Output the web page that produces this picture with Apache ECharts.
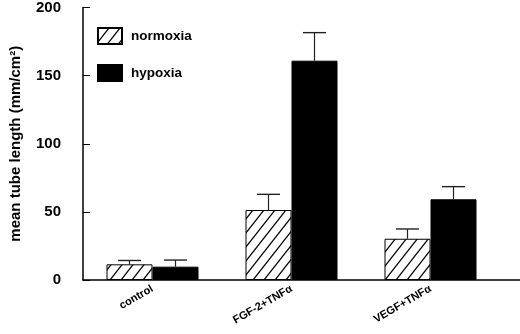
<!DOCTYPE html>
<html>
<head>
<meta charset="utf-8">
<script src="https://cdn.jsdelivr.net/npm/echarts@6/dist/echarts.min.js"></script>
<style>
html,body{margin:0;padding:0;background:#fff;}
#c{width:520px;height:334px;}
</style>
</head>
<body>
<div id="c"></div>
<script>
const categories = ['control', 'FGF-2+TNFα', 'VEGF+TNFα'];
const seriesNames = ['normoxia', 'hypoxia'];
const normoxia = [11.4, 50.9, 30.0];
const normoxiaErr = [14.2, 62.3, 37.1];
const hypoxia = [9.7, 159.5, 58.7];
const hypoxiaErr = [14.5, 179.9, 67.9];
const yTicks = [0, 50, 100, 150, 200];
const yTitle = 'mean tube length (mm/cm²)';

function makeHatch() {
  const w = 11, h = 14;
  const cv = document.createElement('canvas');
  cv.width = w; cv.height = h;
  const ctx = cv.getContext('2d');
  ctx.fillStyle = '#fff';
  ctx.fillRect(0, 0, w, h);
  ctx.strokeStyle = '#000';
  ctx.lineWidth = 1.3;
  for (const s of [-w, 0, w]) {
    ctx.beginPath();
    ctx.moveTo(s - w, 2 * h);
    ctx.lineTo(s + 2 * w, -h);
    ctx.stroke();
  }
  return cv;
}

const BAR_W = 46;
const font = '"Liberation Sans", Arial, sans-serif';

function errSeries(name, vals, errs, side) {
  return {
    type: 'custom',
    name: name + '_err',
    xAxisIndex: 1, yAxisIndex: 1,
    silent: true,
    z: 1,
    data: vals.map((v, i) => [i, v, errs[i]]),
    renderItem: function (params, api) {
      const c = api.value(0);
      const top = api.coord([c, api.value(1)]);
      const cap = api.coord([c, api.value(2)]);
      const x = top[0] + side * BAR_W / 2;
      const half = 11.5;
      return {
        type: 'group',
        children: [
          { type: 'line', shape: { x1: x, y1: top[1], x2: x, y2: cap[1] }, style: { stroke: '#222', lineWidth: 1.2 } },
          { type: 'line', shape: { x1: x - half, y1: cap[1], x2: x + half, y2: cap[1] }, style: { stroke: '#222', lineWidth: 1.4 } }
        ]
      };
    }
  };
}

const chart = echarts.init(document.getElementById('c'), null, { renderer: 'canvas' });
chart.setOption({
  animation: false,
  backgroundColor: '#fff',
  textStyle: { fontFamily: font },
  grid: [
    { left: 79, right: 0, top: 5, bottom: 54 },
    { left: 83, width: 417, top: 5, bottom: 54 }
  ],
  legend: {
    data: seriesNames.map(n => ({ name: n, icon: 'rect' })),
    orient: 'vertical',
    left: 97, top: 27,
    itemWidth: 24, itemHeight: 16, itemGap: 19,
    padding: 0,
    textStyle: { fontFamily: font, fontWeight: 'bold', fontSize: 13.5, color: '#000', padding: [0, 0, 0, 4] }
  },
  xAxis: [
    {
      gridIndex: 0, type: 'category', data: [''],
      axisLine: { show: true, lineStyle: { color: '#000', width: 1.5 } },
      axisTick: { show: false }, axisLabel: { show: false }, splitLine: { show: false }
    },
    {
      gridIndex: 1, type: 'category', data: categories,
      axisLine: { show: false }, axisTick: { show: false },
      axisLabel: { rotate: 30, margin: 8, interval: 0, fontFamily: font, fontWeight: 'bold', fontSize: 11, color: '#000' }
    }
  ],
  yAxis: [
    {
      gridIndex: 0, type: 'value', min: 0, max: 200, interval: 50,
      axisLine: { show: true, lineStyle: { color: '#000', width: 1.5 } },
      axisTick: { show: true, inside: true, length: 7, lineStyle: { color: '#000', width: 1 } },
      axisLabel: {
        margin: 22, fontFamily: font, fontWeight: 'bold', fontSize: 15, color: '#000',
        customValues: yTicks
      },
      splitLine: { show: false },
      name: yTitle, nameLocation: 'middle', nameGap: 60,
      nameTextStyle: { fontFamily: font, fontWeight: 'bold', fontSize: 15, color: '#000' }
    },
    {
      gridIndex: 1, type: 'value', min: 0, max: 200, interval: 50, show: false
    }
  ],
  series: [
    {
      name: seriesNames[0], type: 'bar', xAxisIndex: 1, yAxisIndex: 1,
      data: normoxia, barWidth: BAR_W, barGap: '0%', z: 2,
      itemStyle: { color: { image: makeHatch(), repeat: 'repeat' }, borderColor: '#000', borderWidth: 1 }
    },
    {
      name: seriesNames[1], type: 'bar', xAxisIndex: 1, yAxisIndex: 1,
      data: hypoxia, barWidth: BAR_W, barGap: '0%', z: 2,
      itemStyle: { color: '#000', borderColor: '#000', borderWidth: 1 }
    },
    errSeries(seriesNames[0], normoxia, normoxiaErr, -1),
    errSeries(seriesNames[1], hypoxia, hypoxiaErr, 1)
  ]
});
</script>
</body>
</html>
